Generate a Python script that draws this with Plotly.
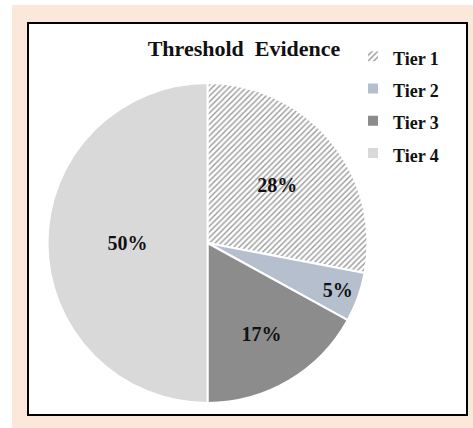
import plotly.graph_objects as go

W, H = 473, 428

categories = ["Tier 1", "Tier 2", "Tier 3", "Tier 4"]
values = [28, 5, 17, 50]
colors = ["#ffffff", "#b6bfcd", "#8c8c8c", "#d9d9d9"]
patterns = ["/", "", "", ""]

def px(x):
    return x / W

def py(y):
    return 1 - y / H

legend_labels = ["<span style='font-size:18px'>%s</span>" % c for c in categories]

fig = go.Figure()
fig.add_trace(go.Pie(
    labels=legend_labels,
    values=values,
    customdata=categories,
    sort=False,
    direction="clockwise",
    rotation=0,
    texttemplate="%{percent:.0%}",
    textposition="inside",
    insidetextorientation="horizontal",
    hovertemplate="%{customdata}: %{percent:.0%}<extra></extra>",
    textfont=dict(family="Liberation Serif", size=20, color="#111111", weight="bold"),
    marker=dict(
        colors=colors,
        line=dict(color="#ffffff", width=2),
        pattern=dict(shape=patterns, fgcolor="#9a9a9a", bgcolor="#ffffff",
                     size=4, solidity=0.35),
    ),
    domain=dict(x=[px(47), px(368)], y=[py(403), py(83)]),
))

fig.update_layout(
    width=W, height=H,
    margin=dict(l=0, r=0, t=0, b=0),
    paper_bgcolor="#ffffff",
    showlegend=True,
    legend=dict(
        x=px(353), y=py(35), xanchor="left", yanchor="top",
        font=dict(family="Liberation Serif", size=22.5, color="#111111", weight="bold"),
        bgcolor="rgba(0,0,0,0)", traceorder="normal",
    ),
    title=dict(
        text="Threshold  Evidence",
        x=px(244), y=py(48), xanchor="center", yanchor="middle",
        font=dict(family="Liberation Serif", size=22, color="#111111", weight="bold"),
    ),
    shapes=[
        dict(type="rect", xref="paper", yref="paper", x0=px(12), x1=px(473), y0=py(428), y1=py(5),
             fillcolor="#fce8da", line=dict(width=0), layer="below"),
        dict(type="rect", xref="paper", yref="paper", x0=px(28), x1=px(467), y0=py(415), y1=py(23),
             fillcolor="#ffffff", line=dict(color="#000000", width=2), layer="below"),
    ],
)
fig.write_html("out.html", config={"displayModeBar": False},
               post_script="document.body.style.margin='0px';")
